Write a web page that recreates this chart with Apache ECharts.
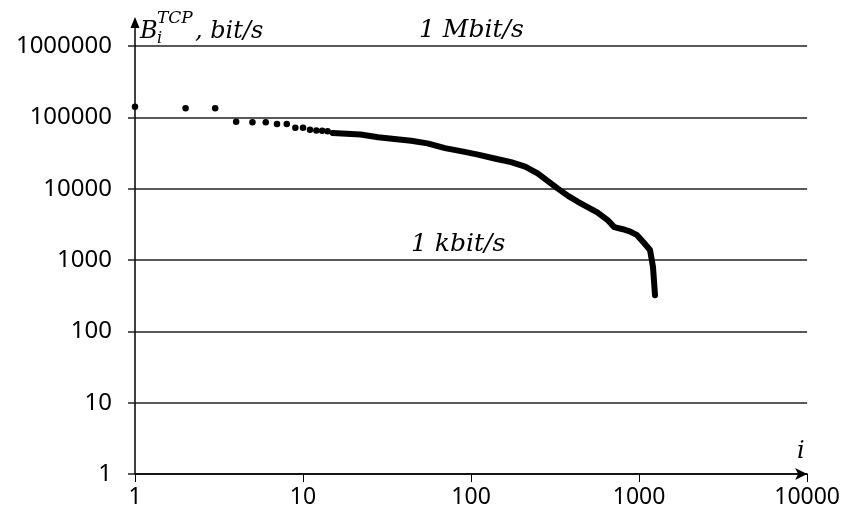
<!DOCTYPE html>
<html>
<head>
<meta charset="utf-8">
<script src="https://cdn.jsdelivr.net/npm/echarts@6/dist/echarts.min.js"></script>
<style>
	html, body { margin: 0; padding: 0; background: #fff; }
	#chart { width: 843px; height: 519px; }
</style>
</head>
<body>
<div id="chart"></div>
<script>
// first points, drawn as separate dots
var dotIndex = [1, 2, 3, 4, 5, 6, 7, 8, 9, 10, 11, 12, 13, 14];
var dotValue = [141000, 134000, 134000, 86700, 85100, 85100, 80500, 80500, 71600, 71600, 67000, 65500, 64700, 64000];

// the dense part of the curve
var curveIndex = [15, 22, 28, 35, 44, 55, 70, 90, 110, 138, 173, 210, 249, 327, 380, 430, 564, 650, 711, 800, 887, 973, 1071, 1162, 1210, 1244];
var curveValue = [60500, 57500, 52500, 49700, 47000, 43100, 37000, 33000, 30000, 26500, 23500, 20400, 16400, 10100, 7870, 6600, 4650, 3630, 2890, 2700, 2500, 2230, 1730, 1380, 800, 320];

var xTicks = [1, 10, 100, 1000, 10000];
var yTicks = [1, 10, 100, 1000, 10000, 100000, 1000000];

function zip(a, b) {
	return a.map(function (v, i) {
		return [v, b[i]];
	});
}

var labelFont = "'Noto Sans', 'Open Sans', sans-serif";
var mathFont = "'DejaVu Serif', serif";

var myChart = echarts.init(document.getElementById("chart"), null, {
	renderer: "canvas"
});

var option = {
	animation: false,
	grid: {
		left: 135,
		right: 29,
		top: 46,
		bottom: 45
	},
	xAxis: {
		type: "log",
		logBase: 10,
		min: xTicks[0],
		max: xTicks[xTicks.length - 1],
		interval: 1,
		axisLine: {
			lineStyle: { color: "#000", width: 1.5 },
			symbol: ["none", "arrow"],
			symbolSize: [9, 12]
		},
		axisTick: {
			show: true,
			length: 8,
			lineStyle: { color: "#000", width: 1 }
		},
		axisLabel: {
			color: "#000",
			fontFamily: labelFont,
			fontSize: 23,
			margin: 12,
			formatter: function (v) {
				return String(Math.round(v));
			}
		},
		splitLine: { show: false },
		minorTick: { show: false }
	},
	yAxis: {
		type: "log",
		logBase: 10,
		min: yTicks[0],
		max: yTicks[yTicks.length - 1],
		interval: 1,
		axisLine: {
			lineStyle: { color: "#000", width: 1.5 }
		},
		axisTick: {
			show: true,
			length: 7,
			lineStyle: { color: "#222", width: 1.5 }
		},
		axisLabel: {
			color: "#000",
			fontFamily: labelFont,
			fontSize: 24,
			margin: 23,
			formatter: function (v) {
				return String(Math.round(v));
			}
		},
		splitLine: {
			show: true,
			lineStyle: { color: "#222", width: 1.5 }
		}
	},
	series: [
		{
			type: "scatter",
			data: zip(dotIndex, dotValue),
			symbol: "circle",
			symbolSize: 6.5,
			itemStyle: { color: "#000", opacity: 1 },
			z: 5
		},
		{
			type: "line",
			data: zip(curveIndex, curveValue),
			showSymbol: false,
			smooth: false,
			lineStyle: { color: "#000", width: 6, cap: "round", join: "round" },
			z: 5
		}
	]
};
myChart.setOption(option);

// arrow on the y axis, titles and the two reference notes
var ax = myChart.convertToPixel({ xAxisIndex: 0 }, 1);
var topY = myChart.convertToPixel({ yAxisIndex: 0 }, 1000000);
myChart.setOption({
	graphic: [
		{
			type: "line",
			shape: { x1: ax, y1: topY, x2: ax, y2: topY - 20 },
			style: { stroke: "#000", lineWidth: 1.5 }
		},
		{
			type: "polygon",
			shape: { points: [[ax, topY - 29], [ax - 4.5, topY - 18], [ax + 4.5, topY - 18]] },
			style: { fill: "#000" }
		},
		{
			type: "text",
			left: ax + 5,
			top: 20,
			style: { text: "B", font: "italic 24px " + mathFont, fill: "#000" }
		},
		{
			type: "text",
			left: ax + 22,
			top: 10,
			style: { text: "TCP", font: "italic 17px " + mathFont, fill: "#000" }
		},
		{
			type: "text",
			left: ax + 22,
			top: 31,
			style: { text: "i", font: "italic 16px " + mathFont, fill: "#000" }
		},
		{
			type: "text",
			left: ax + 60,
			top: 20,
			style: { text: ", bit/s", font: "italic 24px " + mathFont, fill: "#000" }
		},
		{
			type: "text",
			left: 797,
			top: 440,
			style: { text: "i", font: "italic 24px " + mathFont, fill: "#000" }
		},
		{
			type: "text",
			left: 419,
			top: 18,
			style: { text: "1 Mbit/s", font: "italic 25px " + mathFont, fill: "#000" }
		},
		{
			type: "text",
			left: 411,
			top: 232,
			style: { text: "1 kbit/s", font: "italic 25px " + mathFont, fill: "#000" }
		}
	]
});
window.addEventListener("resize", myChart.resize);
</script>
</body>
</html>
